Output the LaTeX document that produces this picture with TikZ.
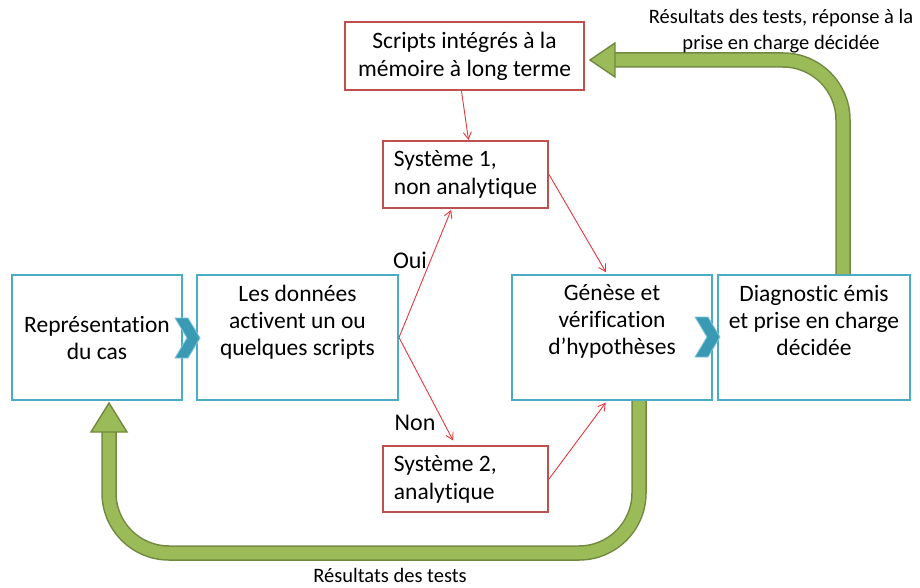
\documentclass[tikz,border=0pt]{standalone}
\usepackage{fontspec}
\setmainfont{Carlito}[Ligatures=NoCommon]
\usetikzlibrary{arrows.meta,calc}
\definecolor{boxblue}{HTML}{4BACC6}
\definecolor{chevfill}{HTML}{3A9AB4}
\definecolor{chevline}{HTML}{7CC6DA}
\definecolor{boxred}{HTML}{C0504D}
\definecolor{arrred}{HTML}{E2383C}
\definecolor{greenfill}{HTML}{9BBB59}
\definecolor{greenline}{HTML}{71893F}
\tikzset{
  bluebox/.style={draw=boxblue,line width=2pt,fill=white,minimum height=125pt,
    align=center,font=\fontsize{23.5}{27}\selectfont,inner sep=0pt},
  redbox/.style={draw=boxred,line width=2pt,fill=white,
    font=\fontsize{23.5}{28}\selectfont,inner sep=0pt},
  redarrow/.style={draw=arrred,line width=0.9pt,-{Straight Barb[length=7pt,width=8pt]}},
  greenback/.style={draw=greenline,line width=15.5pt,rounded corners=60pt},
  greenfront/.style={draw=greenfill,line width=12.5pt,rounded corners=60pt},
  greenhead/.style={fill=greenfill,draw=greenline,line width=1.4pt,line join=miter},
  chevron/.style={fill=chevfill,draw=chevline,line width=0.8pt},
  caption/.style={font=\fontsize{20.5}{26}\selectfont,align=center,inner sep=0pt},
  choice/.style={font=\fontsize{24}{27}\selectfont,inner sep=0pt}
}
\begin{document}
\begin{tikzpicture}[x=1pt,y=-1pt]
\useasboundingbox (0,0) rectangle (920,588);

% main row of steps
\node[bluebox,minimum width=170pt] (cas) at (97,337.5) {Représentation\\du cas};
\node[bluebox,minimum width=201pt] (donnees) at (297.5,337.5) {Les données\\activent un ou\\quelques scripts\\\strut};
\node[bluebox,minimum width=200pt] (genese) at (612,337.5) {Génèse et\\vérification\\d’hypothèses\\\strut};
\node[bluebox,minimum width=192pt] (diag) at (814,337.5) {Diagnostic émis\\et prise en charge\\décidée\\\strut};

% memory and the two systems
\node[redbox,minimum width=239pt,minimum height=68pt,align=center] (scripts) at (464.5,56) {Scripts intégrés à la\\mémoire à long terme};
\node[redbox,minimum width=165pt,minimum height=67pt,align=left] (sys1) at (465.5,174.5) {Système 1,\\non analytique};
\node[redbox,minimum width=165pt,minimum height=66pt,align=left] (sys2) at (465.5,479) {Système 2,\\\rlap{analytique}\phantom{non analytique}};

% chevrons between steps
\draw[chevron] (175,318) -- (188,318) -- (200,338) -- (188,358) -- (175,358) -- (187,338) -- cycle;
\draw[chevron] (695,317) -- (708,317) -- (720,337) -- (708,357) -- (695,357) -- (707,337) -- cycle;

% decision arrows
\draw[redarrow] ([xshift=-3pt]scripts.south) -- ([xshift=3pt]sys1.north);
\draw[redarrow,shorten >=1pt] (donnees.east) -- ([xshift=-14pt]sys1.south);
\draw[redarrow,shorten >=5pt] (donnees.east) -- ([xshift=-10pt]sys2.north);
\draw[redarrow,shorten >=2pt] (sys1.east) -- ([xshift=-5pt]genese.north);
\draw[redarrow,shorten >=2pt] (sys2.east) -- ([xshift=-5pt]genese.south);

\node[choice] (oui) at (410,260) {Oui};
\node[choice] (non) at (415,423) {Non};

% feedback loop to long-term memory
\coordinate (topstart) at ([xshift=29pt]diag.north);
\coordinate (topend) at (615,60);
\draw[greenback] (topstart) -- (topstart |- topend) -- (topend);
\draw[greenfront] (topstart) -- (topstart |- topend) -- (topend);
\draw[greenhead] (590,60) -- (615,43) -- (615,77) -- cycle;

% feedback loop to the case
\coordinate (botstart) at ([xshift=27pt]genese.south);
\coordinate (botend) at (109,432);
\draw[greenback] (botstart) -- (botstart |- 0,553) -- (botend |- 0,553) -- (botend);
\draw[greenfront] (botstart) -- (botstart |- 0,553) -- (botend |- 0,553) -- (botend);
\draw[greenhead] (109,403) -- (127,432) -- (91,432) -- cycle;

\node[caption] (toplabel) at (781,31) {Résultats des tests, réponse à la\\prise en charge décidée};
\node[caption] (botlabel) at (390,575) {Résultats des tests};
\end{tikzpicture}
\end{document}
